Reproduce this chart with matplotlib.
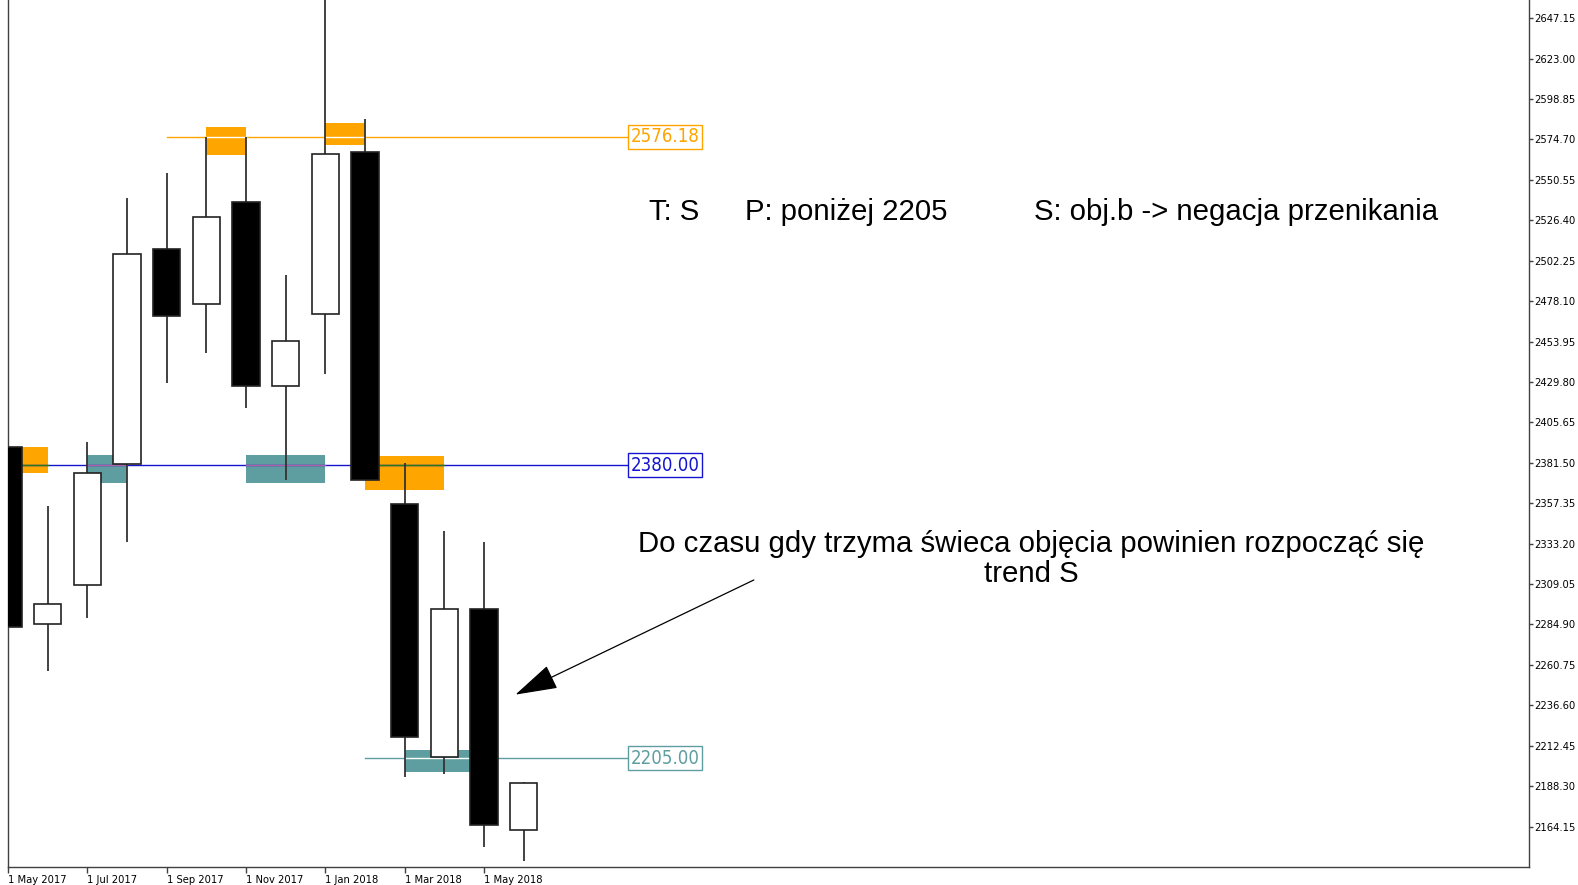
import matplotlib
matplotlib.use('Agg')
import matplotlib.pyplot as plt
from matplotlib.patches import Rectangle
import numpy as np

# monthly candles, May 2017 .. Jun 2018
opens = [2390.9, 2285.0, 2308.5, 2380.7, 2509.4, 2476.3, 2537.1,
         2427.6, 2470.3, 2567.1, 2356.6, 2205.7, 2294.1, 2162.3]
highs = [2390.9, 2355.4, 2393.9, 2539.5, 2554.5, 2576.2, 2576.2,
         2493.8, 2662.0, 2587.0, 2381.3, 2341.0, 2334.4, 2190.6]
lows = [2283.2, 2257.4, 2288.7, 2334.4, 2429.4, 2446.9, 2414.4,
        2371.1, 2434.8, 2371.1, 2193.6, 2195.4, 2152.1, 2143.7]
closes = [2283.2, 2297.1, 2375.3, 2506.4, 2469.1, 2528.1, 2427.6,
          2454.1, 2565.9, 2371.1, 2217.7, 2294.1, 2165.4, 2190.0]

date_ticks = [0, 2, 4, 6, 8, 10, 12]
date_labels = ['1 May 2017', '1 Jul 2017', '1 Sep 2017', '1 Nov 2017',
               '1 Jan 2018', '1 Mar 2018', '1 May 2018']

# price ticks on the right scale
price_ticks = [2164.15 + 24.15 * k for k in range(21)]

# zones: (first bar, last bar, low, high, kind)
zones = [(0, 1, 2375.3, 2390.9, 'supply'),
         (5, 6, 2565.4, 2582.2, 'supply'),
         (8, 9, 2571.4, 2584.6, 'supply'),
         (9, 11, 2365.1, 2385.5, 'supply'),
         (2, 3, 2369.3, 2386.1, 'demand'),
         (6, 8, 2369.3, 2386.1, 'demand'),
         (10, 12, 2196.6, 2209.9, 'demand')]

# horizontal levels: (price, first bar, colour)
levels = [(2576.18, 4, '#FFA500'),
          (2380.00, 0, '#1515D0'),
          (2205.00, 9, '#5F9EA0')]

zone_colors = {'supply': '#FFA500', 'demand': '#5F9EA0'}
# colour a level takes where it crosses a zone (MT5 xor look)
xor_colors = {('#FFA500', 'supply'): 'white',
              ('#1515D0', 'supply'): '#2A7A20',
              ('#1515D0', 'demand'): '#B060A8',
              ('#5F9EA0', 'demand'): 'white'}

fig = plt.figure(figsize=(15.78, 8.85), dpi=100)
ax = fig.add_axes([8 / 1568, 1 - 861 / 879, 1511 / 1568, 861 / 879])
ax.set_xlim(0, 1511 / 39.42)
ax.set_ylim(2140.09, 2657.98)

line_end = (626 - 8) / 39.42

for i0, i1, lo, hi, kind in zones:
    ax.add_patch(Rectangle((i0, lo), i1 - i0, hi - lo,
                           facecolor=zone_colors[kind], edgecolor='none', zorder=1))

for price, start, col in levels:
    ax.plot([start, line_end], [price, price], color=col, lw=1.0, zorder=2)
    for i0, i1, lo, hi, kind in zones:
        if lo <= price <= hi and (col, kind) in xor_colors:
            a, b = max(start, i0), min(line_end, i1)
            if b > a:
                ax.plot([a, b], [price, price], color=xor_colors[(col, kind)],
                        lw=1.0, zorder=2.5)
    ax.text(line_end + 0.88, price, '%.2f' % price, color=col,
            fontsize=13.4, family='DejaVu Sans', fontstretch='condensed',
            ha='center', va='center', zorder=4,
            bbox=dict(boxstyle='square,pad=0.14', fc='white', ec=col, lw=1.0))

# candles
x = np.arange(len(opens))
o = np.array(opens)
c = np.array(closes)
ax.vlines(x, lows, highs, color='#333333', lw=1.3, zorder=3)
body_col = ['white' if cc > oo else 'black' for oo, cc in zip(o, c)]
ax.bar(x, np.abs(c - o), bottom=np.minimum(o, c), width=0.69,
       color=body_col, edgecolor='#222222', linewidth=1.2, zorder=3.5)

# notes
txt = dict(fontsize=21.2, family=['Liberation Sans', 'DejaVu Sans'], color='black', zorder=5)
ax.text(16.16, 2531.6, 'T: S', ha='left', va='center', **txt)
ax.text(18.57, 2531.6, 'P: poniżej 2205', ha='left', va='center', **txt)
ax.text(25.85, 2531.6, 'S: obj.b -> negacja przenikania', ha='left', va='center', **txt)
ax.text(25.80, 2324.0,
        'Do czasu gdy trzyma świeca objęcia powinien rozpocząć się\ntrend S',
        ha='center', va='center', linespacing=1.12, **txt)
ax.annotate('', xy=(12.79, 2243.0), xytext=(18.80, 2311.5),
            arrowprops=dict(arrowstyle='-|>,head_length=2.7,head_width=0.8',
                            color='black', lw=0.9, shrinkA=0, shrinkB=0),
            zorder=5)

# axes look
for s in ['left', 'bottom', 'right']:
    ax.spines[s].set_color('#404040')
    ax.spines[s].set_linewidth(1.0)
ax.spines['top'].set_visible(False)

ax.set_xticks(date_ticks)
ax.set_xticklabels(date_labels, ha='left')
ax.tick_params(axis='x', direction='out', length=4, width=1, color='#404040',
               pad=1.5, labelsize=7.2)
ax.yaxis.tick_right()
ax.set_yticks(price_ticks)
ax.set_yticklabels(['%.2f' % p for p in price_ticks])
ax.tick_params(axis='y', direction='out', length=3, width=1, color='#404040',
               pad=1, labelsize=7.2)
for lab in ax.get_xticklabels() + ax.get_yticklabels():
    lab.set_family('DejaVu Sans')

fig.savefig('out.png', dpi=100, facecolor='white')
